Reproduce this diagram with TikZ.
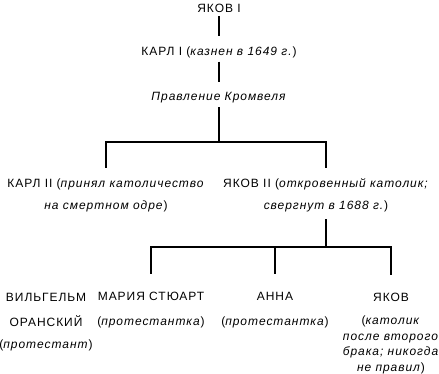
\documentclass[tikz,border=0pt]{standalone}
\usepackage{fontspec}
\setmainfont[LetterSpace=8]{Liberation Sans}
\begin{document}
\begin{tikzpicture}[x=1pt, y=-1pt, line width=1.2pt,
  tag/.style={anchor=base, align=center, inner sep=3pt, font=\fontsize{12}{22}\selectfont}]
  \useasboundingbox (0,0) rectangle (439,374);
  % upper line
  \node[tag] (yakov1) at (219,12.5) {ЯКОВ I};
  \node[tag] (karl1) at (219,55.5) {КАРЛ I (\textit{казнен в 1649 г.})};
  \node[tag] (kromvel) at (219,101) {\textit{Правление Кромвеля}};
  \coordinate (j1) at (219,142);
  \node[tag] (karl2) at (106,210) {КАРЛ II (\textit{принял католичество}\\\textit{на смертном одре})};
  \node[tag] (yakov2) at (326,210) {ЯКОВ II (\textit{откровенный католик;}\\\textit{свергнут в 1688 г.})};
  \coordinate (j2) at (326,247);
  % children of Yakov II
  \node[tag] (wilhelm) at (46,348) {ВИЛЬГЕЛЬМ\\[3pt]ОРАНСКИЙ\\(\textit{протестант})};
  \node[tag] (mary) at (151,325) {МАРИЯ СТЮАРТ\\[3pt](\textit{протестантка})};
  \node[tag] (anna) at (275,325) {АННА\\[3pt](\textit{протестантка})};
  \node[tag, font=\fontsize{12}{15.5}\selectfont] (yakov3) at (391,371)
    {ЯКОВ\\[8pt](\textit{католик}\\\textit{после второго}\\\textit{брака; никогда}\\\textit{не правил})};
  % connectors
  \draw[shorten >=7pt] (yakov1) -- (karl1);
  \draw[shorten >=7pt] (karl1) -- (kromvel);
  \draw (kromvel) -- (j1);
  \draw[shorten >=8pt] (j1) -| (karl2);
  \draw[shorten >=8pt] (j1) -| (yakov2);
  \draw[shorten <=3pt] (yakov2) -- (j2);
  \draw[shorten >=14pt] (j2) -| (mary);
  \draw[shorten >=14pt] (j2) -| (anna);
  \draw[shorten >=14pt] (j2) -| (yakov3);
\end{tikzpicture}
\end{document}
